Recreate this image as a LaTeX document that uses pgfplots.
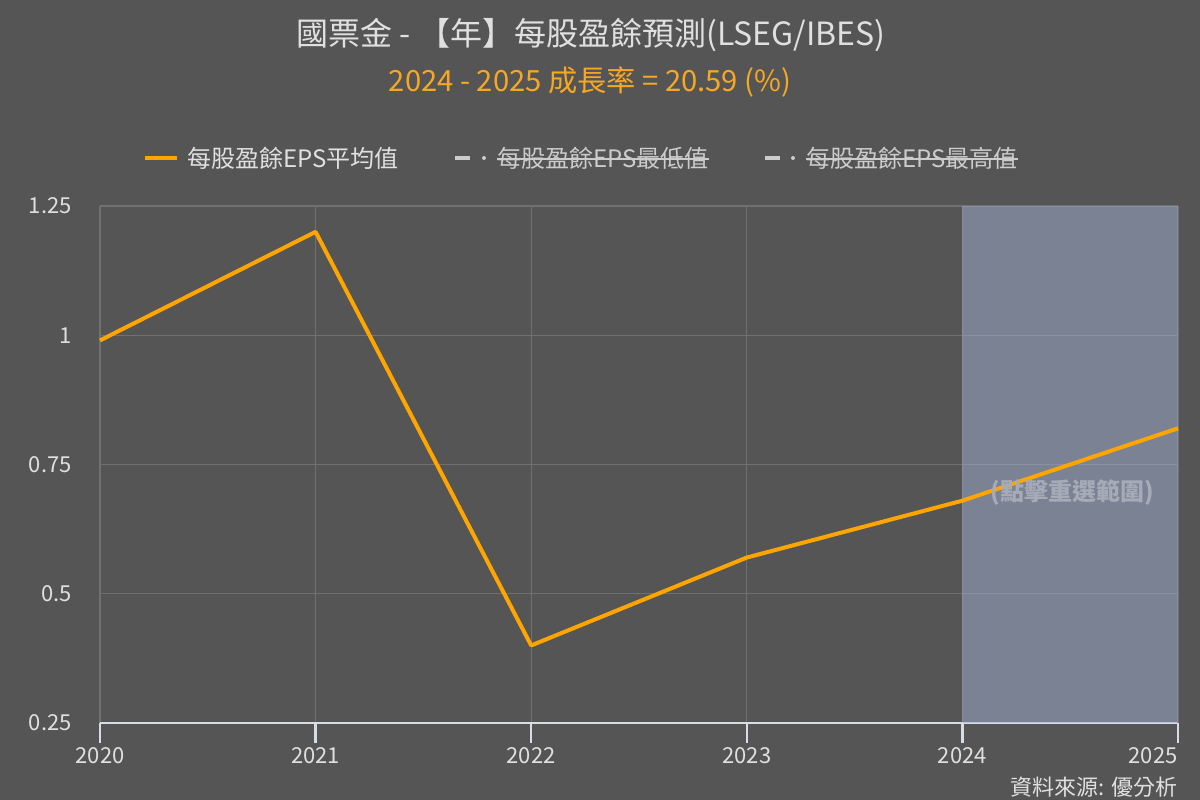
\documentclass[border=0pt]{standalone}
\usepackage{fontspec}
\setmainfont{Noto Sans CJK TC}
\usepackage{pgfplots}
\pgfplotsset{compat=1.18}
\definecolor{bg}{HTML}{555555}
\definecolor{gridc}{HTML}{707070}
\definecolor{axc}{HTML}{D8DCE6}
\definecolor{lineor}{HTML}{FFA500}
\definecolor{subor}{HTML}{F7A823}
\definecolor{txt}{HTML}{E0E0E0}
\definecolor{hid}{HTML}{CCCCCC}
\definecolor{bandc}{HTML}{A0AFD2}
\definecolor{bandtxt}{HTML}{A6ABB8}
\newcommand\strike[1]{\setbox0\hbox{#1}\rlap{\usebox0}\raisebox{0.3em}{\rule{\wd0}{1pt}}}
\begin{document}
\begin{tikzpicture}
\fill[bg] (0,0) rectangle (600bp,400bp);
\useasboundingbox (0,0) rectangle (600bp,400bp);
\node[txt, font=\fontsize{16bp}{19bp}\selectfont] at (295.5bp,382.5bp) {國票金 - 【年】每股盈餘預測(LSEG/IBES)};
\node[subor, font=\fontsize{14.6bp}{17bp}\selectfont] at (295bp,359bp) {2024 - 2025 成長率 = 20.59 (\%)};
% legend
\draw[lineor, line width=2bp] (72.5bp,321bp) -- (88.5bp,321bp);
\node[txt, anchor=west, inner sep=0pt, font=\fontsize{12bp}{14bp}\selectfont] at (93.5bp,321bp) {每股盈餘EPS平均值};
\draw[hid, line width=2bp] (227.5bp,321bp) -- (235bp,321bp);
\fill[hid] (242bp,321bp) circle (1bp);
\node[hid, anchor=west, inner sep=0pt, font=\fontsize{12bp}{14bp}\selectfont] at (248.5bp,321bp) {\strike{每股盈餘EPS最低值}};
\draw[hid, line width=2bp] (382.5bp,321bp) -- (390bp,321bp);
\fill[hid] (396.5bp,321bp) circle (1bp);
\node[hid, anchor=west, inner sep=0pt, font=\fontsize{12bp}{14bp}\selectfont] at (403bp,321bp) {\strike{每股盈餘EPS最高值}};
\begin{axis}[
  at={(50bp,38.5bp)}, anchor=origin,
  scale only axis, width=539bp, height=258.5bp,
  xmin=2020, xmax=2025, ymin=0.25, ymax=1.25,
  xtick={2020,2021,2022,2023,2024},
  extra x ticks={2025},
  extra x tick style={xticklabel style={anchor=north east, xshift=2bp}},
  ytick={0.25,0.5,0.75,1,1.25},
  yticklabels={0.25,0.5,0.75,1,1.25},
  xticklabel={\pgfmathprintnumber[1000 sep={}]{\tick}},
  grid=major,
  major grid style={gridc, line width=0.6bp},
  axis x line*=bottom, axis y line*=left,
  x axis line style={axc, line width=1.2bp, -},
  y axis line style={draw=none},
  tick align=outside,
  x tick style={axc, line width=1.2bp},
  major tick length=10bp,
  y tick style={draw=none},
  xticklabel style={txt, font=\fontsize{11bp}{13bp}\selectfont, inner sep=2bp},
  yticklabel style={txt, font=\fontsize{11bp}{13bp}\selectfont, inner sep=0pt, xshift=-4bp},
  /pgf/number format/assume math mode=true,
  clip=false,
]
\addplot[draw=none, fill=bandc, fill opacity=0.5] coordinates {(2024,0.25)(2024,1.25)(2025,1.25)(2025,0.25)} -- cycle;
\addplot[lineor, line width=2bp, line join=round] coordinates {(2020,0.99)(2021,1.20)(2022,0.40)(2023,0.57)(2024,0.68)(2025,0.82)};
\node[bandtxt, font=\bfseries\fontsize{12bp}{14bp}\selectfont] at (axis cs:2024.51,0.695) {(點擊重選範圍)};
\end{axis}
\node[txt, anchor=east, inner sep=0pt, font=\fontsize{11bp}{13bp}\selectfont] at (589bp,6.5bp) {資料來源: 優分析};
\end{tikzpicture}
\end{document}
